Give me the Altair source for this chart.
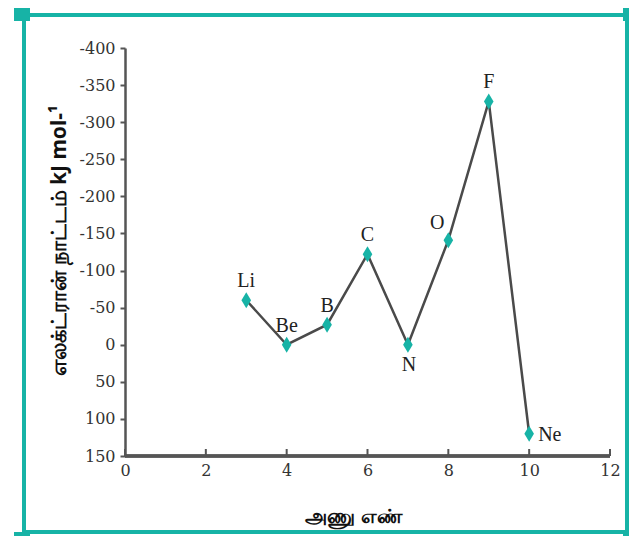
import altair as alt
import pandas as pd

elements = ["Li", "Be", "B", "C", "N", "O", "F", "Ne"]
atomic_number = [3, 4, 5, 6, 7, 8, 9, 10]
electron_affinity = [-60, 0, -27, -122, 0, -141, -328, 120]
label_side = ["top", "top", "top", "top", "bottom", "topleft", "top", "right"]

x_ticks = [0, 2, 4, 6, 8, 10, 12]
y_ticks = [-400, -350, -300, -250, -200, -150, -100, -50, 0, 50, 100, 150]

df = pd.DataFrame({"el": elements, "z": atomic_number, "ea": electron_affinity, "side": label_side})
ticks_df = pd.DataFrame({"t": x_ticks})

W, H = 485, 408
TEAL = "#17b3a6"
AX = "#555555"
SERIF = "'Liberation Serif', 'Times New Roman', serif"
AXFONT = "DejaVu Serif"

x = alt.X("z:Q", scale=alt.Scale(domain=[0, 12], nice=False),
          axis=alt.Axis(values=x_ticks, title="அணு எண்", domain=False, grid=False, ticks=False,
                        labelPadding=6, labelOverlap=False,
                        labelFont=AXFONT, labelFontSize=16, labelColor="#333333", labelFlush=False,
                        titleFont="Noto Sans", titleFontSize=20, titleFontWeight="bold",
                        titleColor="#111111", titleX=228, titleY=60, titleBaseline="middle"))
y = alt.Y("ea:Q", scale=alt.Scale(domain=[-400, 150], reverse=True, nice=False),
          axis=alt.Axis(values=y_ticks, title="எலக்ட்ரான் நாட்டம் kJ mol-¹", grid=False,
                        domainColor=AX, domainWidth=2.5, tickColor=AX, tickWidth=2, tickSize=5,
                        labelPadding=5, labelExpr="'' + datum.value", labelOverlap=False,
                        labelFont=AXFONT, labelFontSize=16, labelColor="#333333", labelFlush=False,
                        titleFont="Noto Sans", titleFontSize=21, titleFontWeight="bold",
                        titleColor="#111111", titleX=-66, titleY=192, titleAngle=-90,
                        titleBaseline="middle", titleAlign="center"))

base = alt.Chart(df).encode(x=x, y=y)
line = base.mark_line(color="#4a4a4a", strokeWidth=2.5).encode(order="z:Q")
pts = base.mark_point(shape="M0,-1L0.6,0L0,1L-0.6,0Z", filled=True, color=TEAL, opacity=1,
                      size=256)

def lab(side, dx, dy, align="center"):
    return base.transform_filter(alt.datum.side == side).mark_text(
        font=SERIF, fontSize=20, color="#222222", dx=dx, dy=dy, align=align, baseline="middle"
    ).encode(text="el:N")

labels = [lab("top", 0, -19), lab("bottom", 1, 20), lab("topleft", -11, -17), lab("right", 9, 1, "left")]

bottom_rule = base.mark_rule(color=AX, strokeWidth=2.5).encode(
    x=alt.value(0), x2=alt.value(W), y=alt.value(H))

x_tick_marks = alt.Chart(ticks_df).mark_rule(color=AX, strokeWidth=2).encode(
    x=alt.X("t:Q", scale=alt.Scale(domain=[0, 12], nice=False)),
    y=alt.value(H - 7), y2=alt.value(H))

# decorative frame
L, R, T, B = -101, 502, -33, 484
frame = [
    base.mark_rule(color=TEAL, strokeWidth=3).encode(x=alt.value(L), x2=alt.value(R), y=alt.value(T)),
    base.mark_rule(color=TEAL, strokeWidth=3).encode(x=alt.value(L), x2=alt.value(R), y=alt.value(B)),
    base.mark_rule(color=TEAL, strokeWidth=3).encode(x=alt.value(L), y=alt.value(T), y2=alt.value(B)),
    base.mark_rule(color=TEAL, strokeWidth=3).encode(x=alt.value(R), y=alt.value(T), y2=alt.value(B)),
]
sq = 16
corners = []
for cx, cy in [(L - 10, T - 10), (R - 4, T - 10), (L - 10, B), (R - 4, B)]:
    corners.append(base.mark_rect(color=TEAL).encode(
        x=alt.value(cx), x2=alt.value(cx + sq), y=alt.value(cy), y2=alt.value(cy + sq)))

chart = alt.layer(line, pts, *labels, x_tick_marks, bottom_rule, *frame, *corners).properties(
    width=W, height=H,
    autosize=alt.AutoSizeParams(type="none"),
    padding={"left": 117, "top": 40, "right": 19, "bottom": 80},
    background="white",
).configure_view(stroke=None)

chart.save("out.html", embed_options={"renderer": "svg", "actions": False})
